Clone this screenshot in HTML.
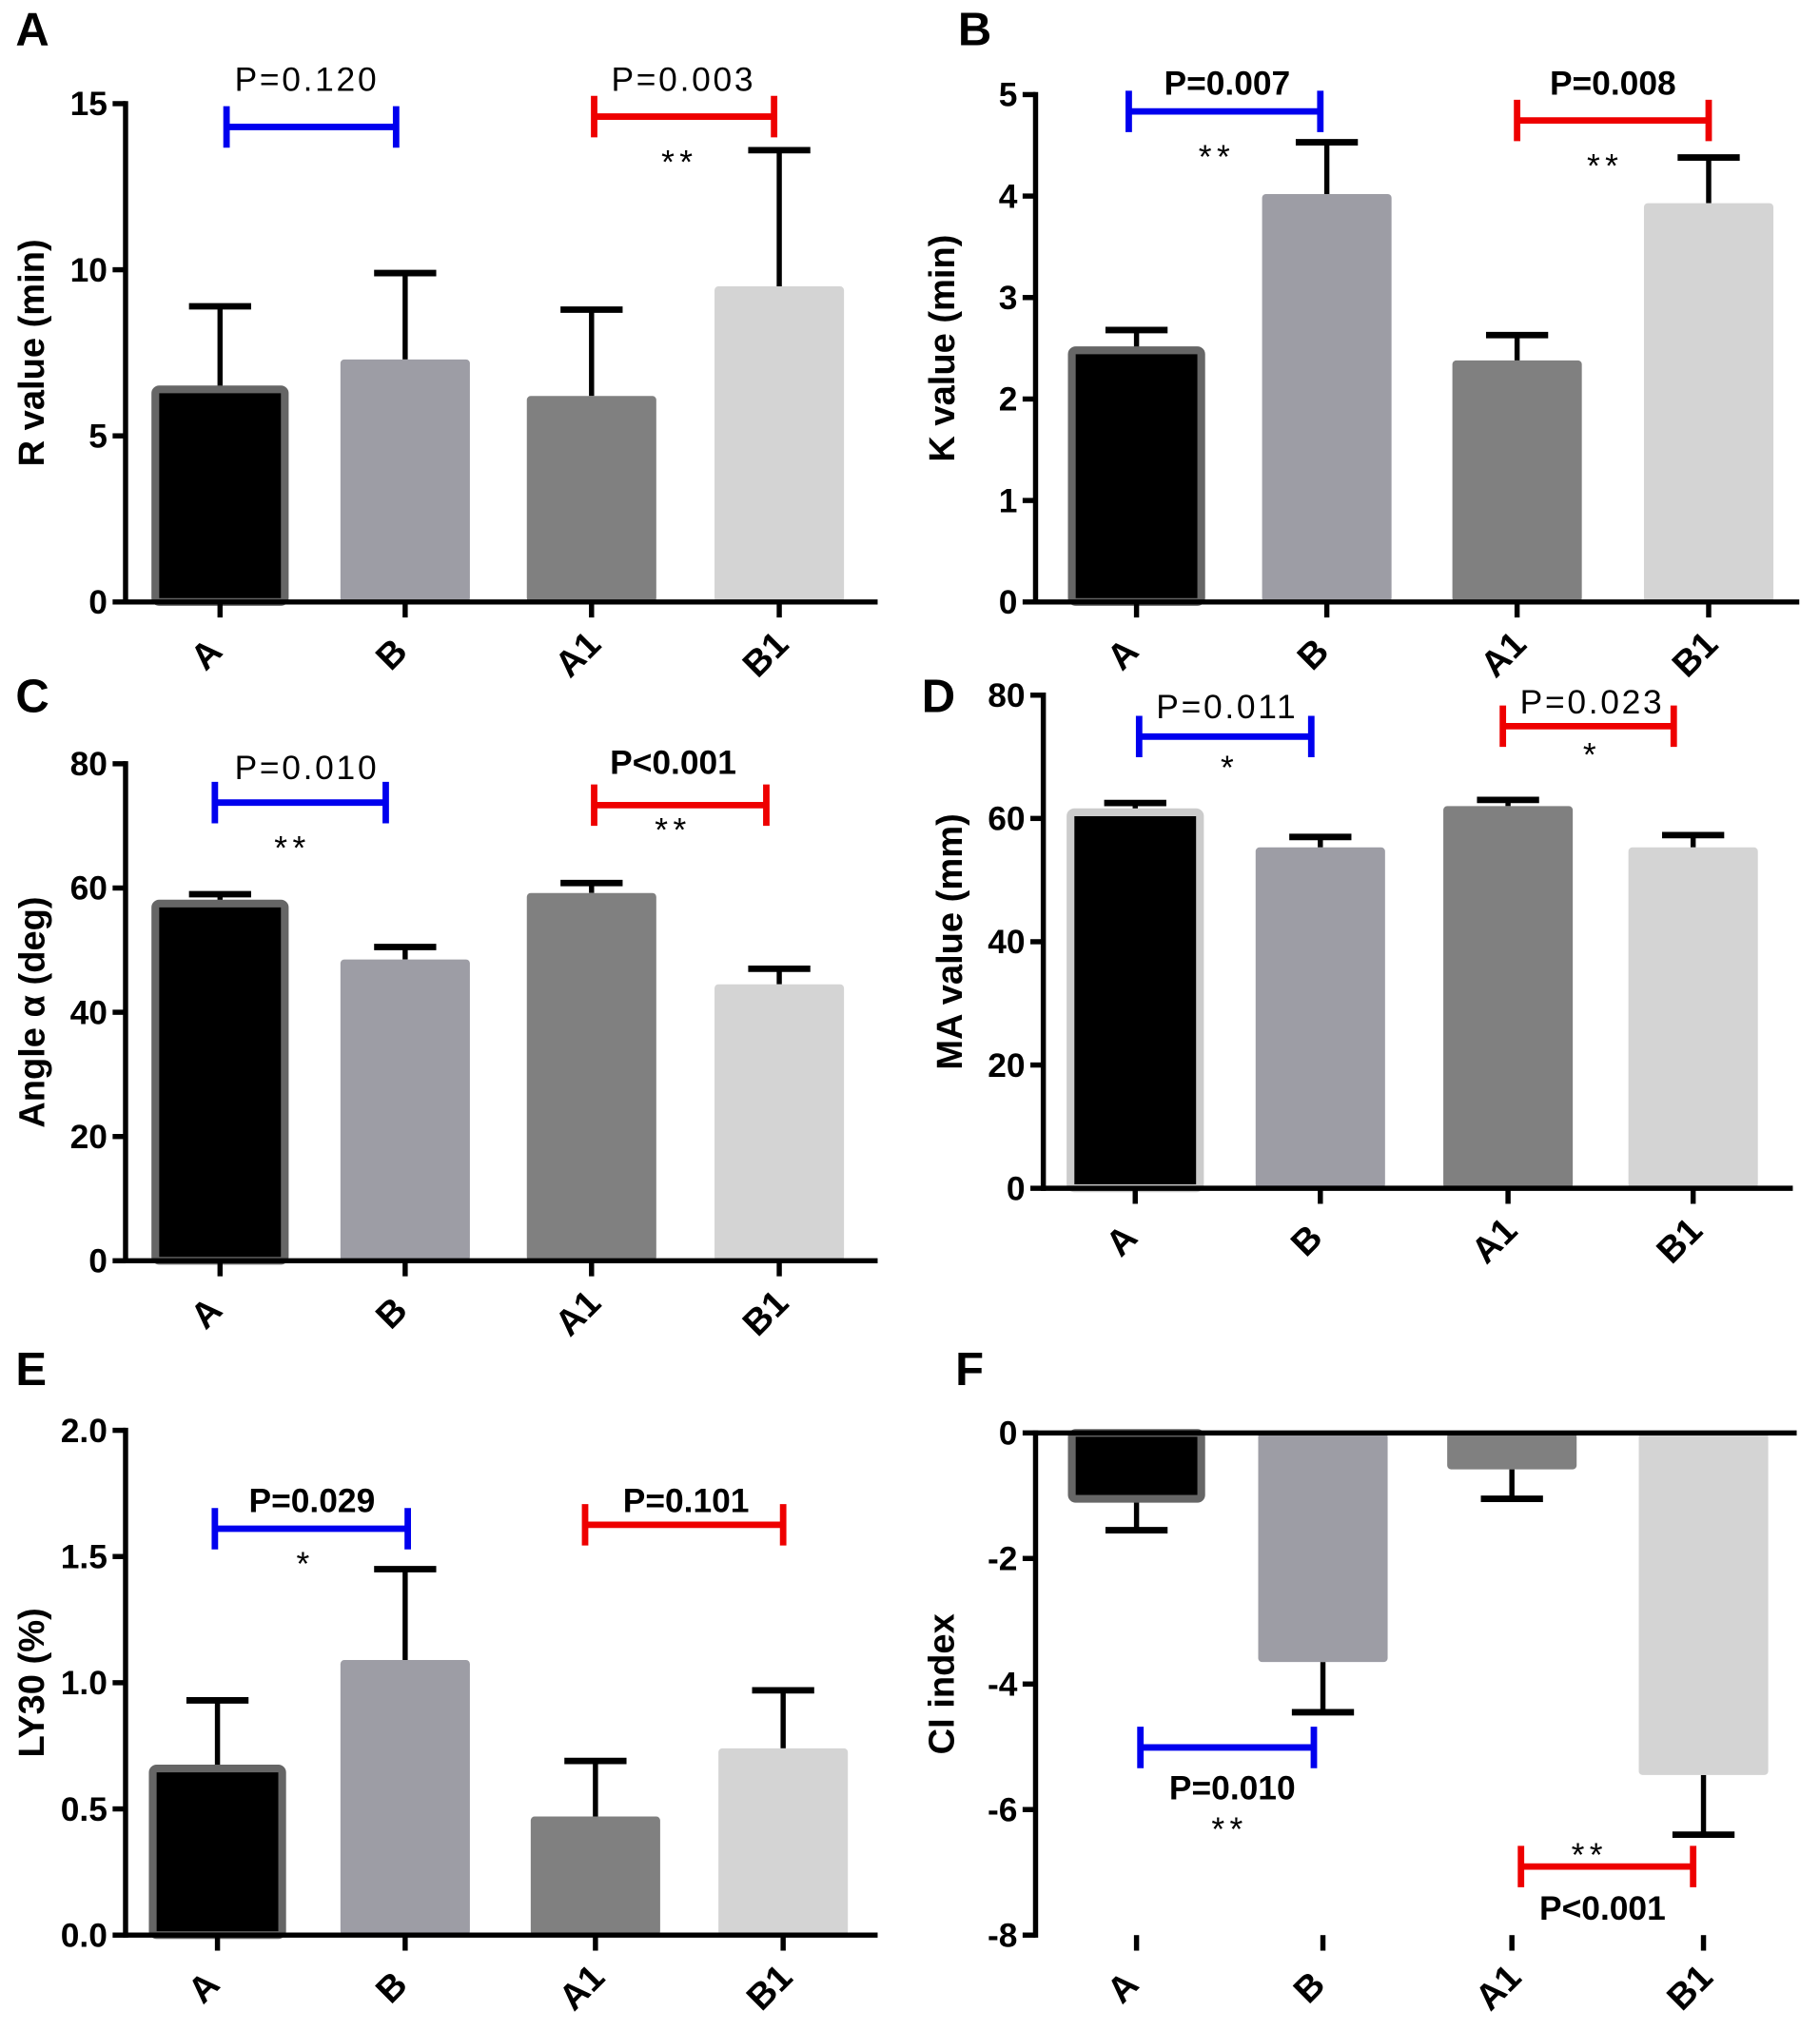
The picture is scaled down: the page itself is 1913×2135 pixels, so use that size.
<!DOCTYPE html>
<html><head><meta charset="utf-8"><style>
html,body{margin:0;padding:0;background:#fff;}
svg{display:block;font-family:"Liberation Sans",Arial,sans-serif;}
</style></head><body>
<svg id="fig" width="1913" height="2135" viewBox="0 0 1406 1569" xmlns="http://www.w3.org/2000/svg"></svg>
<script>
const cats = ["A","B","A1","B1"];
const rVals = [6.4,7.3,6.2,9.5];   const rErr = [8.9,9.9,8.8,13.6];
const kVals = [2.48,4.02,2.38,3.93]; const kErr = [2.68,4.53,2.63,4.38];
const angVals = [57.5,48.5,59.2,44.5]; const angErr = [59,50.5,60.8,47];
const maVals = [61,55.3,62,55.3]; const maErr = [62.5,57,63,57.3];
const lyVals = [0.66,1.09,0.47,0.74]; const lyErr = [0.93,1.45,0.69,0.97];
const ciVals = [-1.05,-3.65,-0.58,-5.45]; const ciErr = [-1.55,-4.45,-1.05,-6.4];
const rTicks = [0,5,10,15];
const kTicks = [0,1,2,3,4,5];
const angTicks = [0,20,40,60,80];
const maTicks = [0,20,40,60,80];
const lyTicks = ["0.0","0.5","1.0","1.5","2.0"];
const ciTicks = [0,-2,-4,-6,-8];

const NS="http://www.w3.org/2000/svg";
const svg=document.getElementById('fig');
function mk(tag,attrs,parent,text){const e=document.createElementNS(NS,tag);for(const k in attrs)e.setAttribute(k,attrs[k]);if(text!==undefined)e.textContent=text;(parent||svg).appendChild(e);return e;}
const fills=["#000","#9d9da5","#808080","#d4d4d4"];

function panel(o){
  const g=mk('g',{});
  
  
  const y=v=>o.y0+(v-o.vmin)/(o.vmax-o.vmin)*(o.y1-o.y0);
  const base=y(0);
  o.vals.forEach((v,i)=>{
    const cx=o.cx[i], w=100;
    const top=Math.min(y(v),base), h=Math.abs(y(v)-base);
    const eTop=y(o.err[i]);
    const el=mk('line',{x1:cx,x2:cx,y1:y(v),y2:eTop,stroke:'#000','stroke-width':4},g);
    
    
    const cap=mk('line',{x1:cx-24,x2:cx+24,y1:eTop,y2:eTop,stroke:'#000','stroke-width':5},g);
    
    
    const b=mk('rect',{x:cx-w/2,y:top,width:w,height:h,fill:fills[i],rx:3},g);
    if(i===0){b.setAttribute('stroke',o.aStroke||'#666');b.setAttribute('stroke-width',6);}
    
    
    const t=mk('line',{x1:cx,x2:cx,y1:o.tickY,y2:o.tickY+12,stroke:'#000','stroke-width':4},g);
    
    
    const lx=cx-4, ly=o.tickY+47;
    const lab=mk('text',{x:lx,y:ly,'font-size':28,'font-weight':'bold','text-anchor':'middle',transform:`rotate(-45 ${lx} ${ly})`},g,cats[i]);
    
    
  });
  const ya=mk('line',{x1:o.ax,x2:o.ax,y1:Math.min(o.y0,o.y1)-2,y2:Math.max(o.y0,o.y1)+2,stroke:'#000','stroke-width':4},g);
  
  
  const xa=mk('line',{x1:o.ax,x2:o.xEnd,y1:base,y2:base,stroke:'#000','stroke-width':4},g);
  
  
  o.ticks.forEach(t=>{
    const ty=y(parseFloat(t));
    mk('line',{x1:o.ax-10,x2:o.ax,y1:ty,y2:ty,stroke:'#000','stroke-width':4},g);
    const tl=mk('text',{x:o.ax-14,y:ty+9,'font-size':26,'font-weight':'bold','text-anchor':'end'},g,t);
    
    
  });
  const ymid=(o.y0+o.y1)/2, yx=o.ax-63;
  const yt=mk('text',{x:yx,y:ymid,'font-size':28,'font-weight':'bold','text-anchor':'middle',transform:`rotate(-90 ${yx} ${ymid})`},g,o.ylabel);
  
  
  const pl=mk('text',{x:o.letter[0],y:o.letter[1],'font-size':36,'font-weight':'bold'},g,o.id);
  
  
  o.brackets.forEach(br=>{
    const bg=mk('g',{},g);
    
    
    mk('line',{x1:br[0],x2:br[1],y1:br[2],y2:br[2],stroke:br[3],'stroke-width':5},bg);
    mk('line',{x1:br[0],x2:br[0],y1:br[2]-16,y2:br[2]+16,stroke:br[3],'stroke-width':5},bg);
    mk('line',{x1:br[1],x2:br[1],y1:br[2]-16,y2:br[2]+16,stroke:br[3],'stroke-width':5},bg);
    mk('text',{x:br[4],y:br[5],'font-size':26,'font-weight':br[9]||'bold','text-anchor':'middle','letter-spacing':br[9]?2:0},bg,br[6]);
    if(br[7])mk('text',{x:br[7][0],y:br[7][1],'font-size':26,'text-anchor':'middle','letter-spacing':4},bg,br[8]);
  });
}
const cxL=[170,313,457,602];
panel({id:'A',vals:rVals,err:rErr,ticks:rTicks,vmin:0,vmax:15,y0:465,y1:80,ax:97,xEnd:678,cx:cxL,tickY:465,ylabel:'R value (min)',letter:[12,35],
  brackets:[[175,306,98,'#0000ee',237,70,'P=0.120',null,'','normal'],[459,598,90,'#ee0000',528,70,'P=0.003',[525,134],'**','normal']]});
panel({id:'B',vals:kVals,err:kErr,ticks:kTicks,vmin:0,vmax:5,y0:465,y1:73,ax:800,xEnd:1390,cx:[878,1025,1172,1320],tickY:465,ylabel:'K value (min)',letter:[740,35],
  brackets:[[872,1020,86,'#0000ee',948,73,'P=0.007',[940,130],'**'],[1172,1320,93,'#ee0000',1246,73,'P=0.008',[1240,137],'**']]});
panel({id:'C',vals:angVals,err:angErr,ticks:angTicks,vmin:0,vmax:80,y0:974,y1:590,ax:97,xEnd:678,cx:cxL,tickY:974,ylabel:'Angle α (deg)',letter:[12,550],
  brackets:[[166,298,620,'#0000ee',237,602,'P=0.010',[226,664],'**','normal'],[459,592,622,'#ee0000',520,598,'P<0.001',[520,650],'**']]});
panel({id:'D',vals:maVals,err:maErr,ticks:maTicks,vmin:0,vmax:80,y0:918,y1:537,ax:806,xEnd:1385,cx:[877,1020,1165,1308],tickY:918,ylabel:'MA value (mm)',letter:[712,550],aStroke:'#ccc',
  brackets:[[880,1013,569,'#0000ee',948,555,'P=0.011',[950,602],'*','normal'],[1161,1293,561,'#ee0000',1230,551,'P=0.023',[1230,592],'*','normal']]});
panel({id:'E',vals:lyVals,err:lyErr,ticks:lyTicks,vmin:0,vmax:2,y0:1495,y1:1105,ax:97,xEnd:678,cx:[168,313,460,605],tickY:1495,ylabel:'LY30 (%)',letter:[12,1070],
  brackets:[[166,315,1181,'#0000ee',241,1168,'P=0.029',[236,1217],'*'],[452,605,1178,'#ee0000',530,1168,'P=0.101']]});
panel({id:'F',vals:ciVals,err:ciErr,ticks:ciTicks,vmin:0,vmax:-8,y0:1107,y1:1495,ax:800,xEnd:1388,cx:[878,1022,1168,1316],tickY:1495,ylabel:'CI index',letter:[738,1070],
  brackets:[[881,1015,1350,'#0000ee',952,1390,'P=0.010',[950,1422],'**'],[1175,1308,1442,'#ee0000',1238,1483,'P<0.001',[1228,1442],'**']]});
</script>
</body></html>
